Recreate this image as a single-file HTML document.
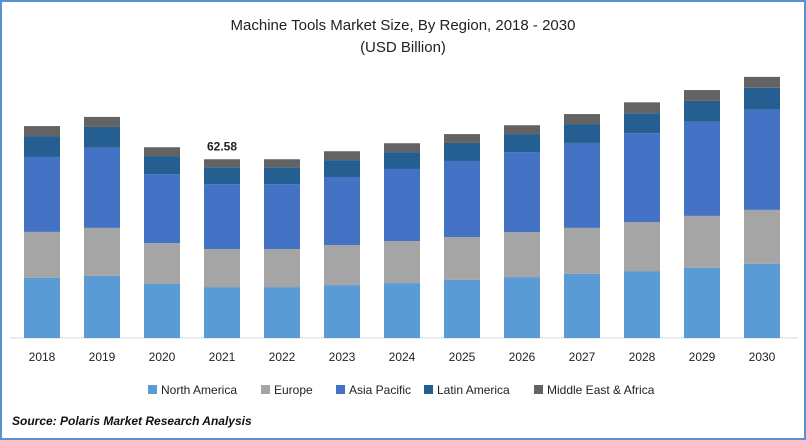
<!DOCTYPE html>
<html><head><meta charset="utf-8"><style>
body{margin:0;background:#fff}
#wrap{position:relative;width:806px;height:440px;box-sizing:border-box;border:2px solid #5b8fd0;font-family:"Liberation Sans",sans-serif;overflow:hidden}
</style></head><body>
<div id="wrap">
<svg id="chart" width="802" height="436"></svg>
</div>
<script>
const years=["2018","2019","2020","2021","2022","2023","2024","2025","2026","2027","2028","2029","2030"];
const northAmerica=[21.0,21.7,18.9,17.8,17.8,18.5,19.2,20.3,21.3,22.4,23.4,24.5,25.9];
const europe=[16.1,16.8,14.3,13.3,13.3,14.0,14.7,15.0,15.7,16.1,17.1,18.2,18.9];
const asiaPacific=[26.2,28.0,24.1,22.7,22.7,23.8,25.2,26.6,28.0,29.7,31.1,32.9,35.0];
const latinAmerica=[7.3,7.3,6.3,5.9,5.9,5.9,5.9,6.3,6.3,6.6,7.0,7.3,7.7];
const mea=[3.5,3.5,3.1,2.8,2.8,3.1,3.1,3.1,3.1,3.5,3.8,3.8,3.8];
const seriesNames=["North America","Europe","Asia Pacific","Latin America","Middle East & Africa"];
const annotation={index:3,label:"62.58"};

const NS="http://www.w3.org/2000/svg";
const svg=document.getElementById('chart');
const colors=["#5b9bd5","#a5a5a5","#4472c4","#255e91","#636363"];
const series=[northAmerica,europe,asiaPacific,latinAmerica,mea];
const base=336, scale=2.86, x0=40, step=60, bw=36;
const yS=v=>v*scale;
const xS=i=>x0+i*step;
function mk(t,a){const e=document.createElementNS(NS,t);for(const k in a)e.setAttribute(k,a[k]);svg.appendChild(e);return e;}
let t=mk('text',{x:401,y:28,'text-anchor':'middle','font-size':'15',fill:'#222'});t.textContent="Machine Tools Market Size, By Region, 2018 - 2030";

t=mk('text',{x:401,y:50,'text-anchor':'middle','font-size':'15',fill:'#222'});t.textContent="(USD Billion)";

const ax=mk('line',{x1:8,x2:796,y1:base,y2:base,stroke:'#d9d9d9'});

years.forEach((y,i)=>{
  let acc=0;
  series.forEach((s,k)=>{
    const h=yS(s[i]);
    const r=mk('rect',{x:xS(i)-bw/2,y:base-yS(acc)-h,width:bw,height:h,fill:colors[k]});
    
    
    acc+=s[i];
  });
  const l=mk('text',{x:xS(i),y:base+23,'text-anchor':'middle','font-size':'12',fill:'#222'});l.textContent=y;
  
  
  if(i===annotation.index){
    const a=mk('text',{x:xS(i),y:base-yS(acc)-9,'text-anchor':'middle','font-size':'12','font-weight':'bold',fill:'#222'});a.textContent=annotation.label;
    
    
  }
});
const lx=[146,259,334,422,532];
seriesNames.forEach((n,k)=>{
  const g=document.createElementNS(NS,'g');svg.appendChild(g);
  
  
  const r=document.createElementNS(NS,'rect');r.setAttribute('x',lx[k]);r.setAttribute('y',383);r.setAttribute('width',9);r.setAttribute('height',9);r.setAttribute('fill',colors[k]);g.appendChild(r);
  const tx=document.createElementNS(NS,'text');tx.setAttribute('x',lx[k]+13);tx.setAttribute('y',392);tx.setAttribute('font-size','12');tx.setAttribute('fill','#222');tx.textContent=n;g.appendChild(tx);
});
t=mk('text',{x:10,y:423,'font-size':'12','font-weight':'bold','font-style':'italic',fill:'#111'});t.textContent="Source: Polaris  Market Research Analysis";

</script>
</body></html>
